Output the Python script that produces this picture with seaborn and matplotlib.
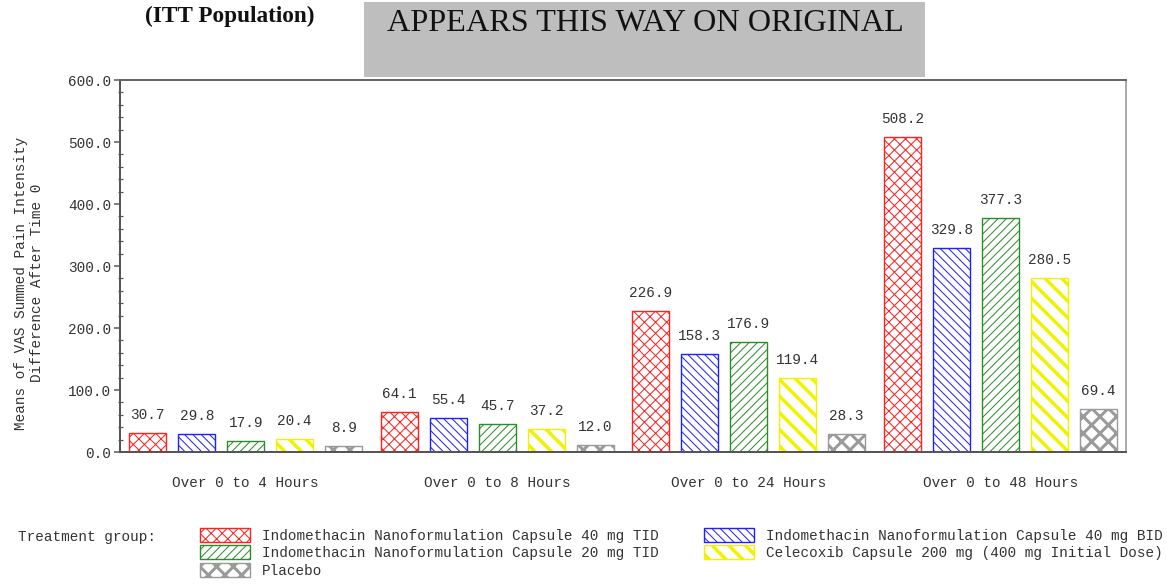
import matplotlib
matplotlib.use("Agg")
import matplotlib.pyplot as plt
import pandas as pd
import seaborn as sns
from matplotlib.patches import Rectangle, Patch
from matplotlib.ticker import MultipleLocator, FormatStrFormatter

# ---- data -------------------------------------------------------------
periods = ["Over 0 to 4 Hours", "Over 0 to 8 Hours",
           "Over 0 to 24 Hours", "Over 0 to 48 Hours"]
groups = ["Indomethacin Nanoformulation Capsule 40 mg TID",
          "Indomethacin Nanoformulation Capsule 40 mg BID",
          "Indomethacin Nanoformulation Capsule 20 mg TID",
          "Celecoxib Capsule 200 mg (400 mg Initial Dose)",
          "Placebo"]
means_indo40_tid = [30.7, 64.1, 226.9, 508.2]
means_indo40_bid = [29.8, 55.4, 158.3, 329.8]
means_indo20_tid = [17.9, 45.7, 176.9, 377.3]
means_celecoxib = [20.4, 37.2, 119.4, 280.5]
means_placebo = [8.9, 12.0, 28.3, 69.4]
y_ticks = [0, 100, 200, 300, 400, 500, 600]

series = [means_indo40_tid, means_indo40_bid, means_indo20_tid,
          means_celecoxib, means_placebo]
df = pd.DataFrame(
    [(p, g, v) for g, vals in zip(groups, series) for p, v in zip(periods, vals)],
    columns=["period", "group", "mean"],
)

# ---- styling ----------------------------------------------------------
W, H, DPI = 1167, 584, 200


def px(v):
    """pixels -> points"""
    return v * 72 / DPI


colors = ["#ff2020", "#2020ff", "#2a8c2a", "#f2f200", "#9a9a9a"]
hatches = ["x" * 6, "\\" * 8, "/" * 8, "\\" * 4, "x" * 4]
hatch_lw = [px(1.0), px(1.0), px(1.0), px(3.5), px(3.0)]
text_color = "#333333"

sns.set_theme(style="white")
plt.rcParams["font.family"] = ["Liberation Mono", "DejaVu Sans Mono"]
plt.rcParams["hatch.linewidth"] = px(1.0)
FS = 5.2
EM = FS * DPI / 72

fig = plt.figure(figsize=(W / DPI, H / DPI), dpi=DPI)
ax = fig.add_axes([120 / W, 1 - 452 / H, (1126 - 120) / W, (452 - 80) / H])

sns.barplot(data=df, x="period", y="mean", hue="group", order=periods,
            hue_order=groups, palette=colors, fill=False, width=0.974,
            gap=0.245, linewidth=px(1.4), errorbar=None, legend=False, ax=ax)

for cont, c, h, hl in zip(ax.containers, colors, hatches, hatch_lw):
    for bar in cont.patches:
        bar.set_hatch(h)
        bar.set_edgecolor(c)
        bar.set_facecolor("none")
        if hasattr(bar, "set_hatch_linewidth"):
            bar.set_hatch_linewidth(hl)
        ax.annotate(f"{bar.get_height():.1f}",
                    (bar.get_x() + bar.get_width() / 2, bar.get_height()),
                    xytext=(0, px(14)), textcoords="offset points",
                    ha="center", va="baseline", fontsize=FS, color=text_color)

ax.set_xlim(-0.5, 3.5)
ax.set_ylim(0, 600)
ax.set_yticks(y_ticks)
ax.yaxis.set_major_formatter(FormatStrFormatter("%.1f"))
ax.yaxis.set_minor_locator(MultipleLocator(20))
ax.set_xlabel("")
ax.set_ylabel("")

ax.tick_params(axis="x", length=0, pad=px(24), labelsize=FS, labelcolor=text_color)
ax.tick_params(axis="y", which="major", direction="out", length=px(6),
               width=px(1.5), color="#555555", pad=px(3), labelsize=FS,
               labelcolor=text_color, left=True)
ax.tick_params(axis="y", which="minor", direction="inout", length=px(5),
               width=px(1.2), color="#555555", left=True)

for side, col in [("top", "#666666"), ("left", "#555555"),
                  ("bottom", "#555555"), ("right", "#aaaaaa")]:
    ax.spines[side].set_visible(True)
    ax.spines[side].set_color(col)
    ax.spines[side].set_linewidth(px(2))

fig.text(29 / W, 1 - 283 / H,
         "Means of VAS Summed Pain Intensity\nDifference After Time 0",
         rotation=90, ha="center", va="center", multialignment="center",
         fontsize=FS, color=text_color, linespacing=1.25)

# ---- header -----------------------------------------------------------
fig.patches.append(Rectangle((364 / W, 1 - 77 / H), (925 - 364) / W, 75 / H,
                             transform=fig.transFigure, facecolor="#bebebe",
                             edgecolor="none", zorder=0))
fig.text(645 / W, 1 - 31 / H, "APPEARS THIS WAY ON ORIGINAL",
         ha="center", va="baseline", fontsize=11.6, color="#111111",
         family=["Liberation Serif", "DejaVu Serif"])
fig.text(145 / W, 1 - 22 / H, "(ITT Population)", ha="left", va="baseline",
         fontsize=8.4, fontweight="bold", color="#111111",
         family=["Liberation Serif", "DejaVu Serif"])

# ---- legend -----------------------------------------------------------
fig.text(18 / W, 1 - 537 / H, "Treatment group:", ha="left", va="center",
         fontsize=FS, color=text_color)

handles = []
for c, h in zip(colors, hatches):
    handles.append(Patch(facecolor="none", edgecolor=c, hatch=h, linewidth=px(1.4)))
order = [0, 2, 4, 1, 3]
leg = fig.legend([handles[i] for i in order], [groups[i] for i in order],
                 ncol=2, loc="upper left", bbox_to_anchor=(200 / W, 1 - 528 / H),
                 frameon=False, fontsize=FS, handlelength=50 / EM,
                 handleheight=16 / EM, handletextpad=12 / EM,
                 columnspacing=45 / EM, labelspacing=2.5 / EM,
                 borderpad=0, borderaxespad=0)
for t in leg.get_texts():
    t.set_color(text_color)
for lh, hl in zip(leg.legend_handles, [hatch_lw[i] for i in order]):
    if hasattr(lh, "set_hatch_linewidth"):
        lh.set_hatch_linewidth(hl)

fig.savefig("out.png", dpi=DPI, facecolor="white")
